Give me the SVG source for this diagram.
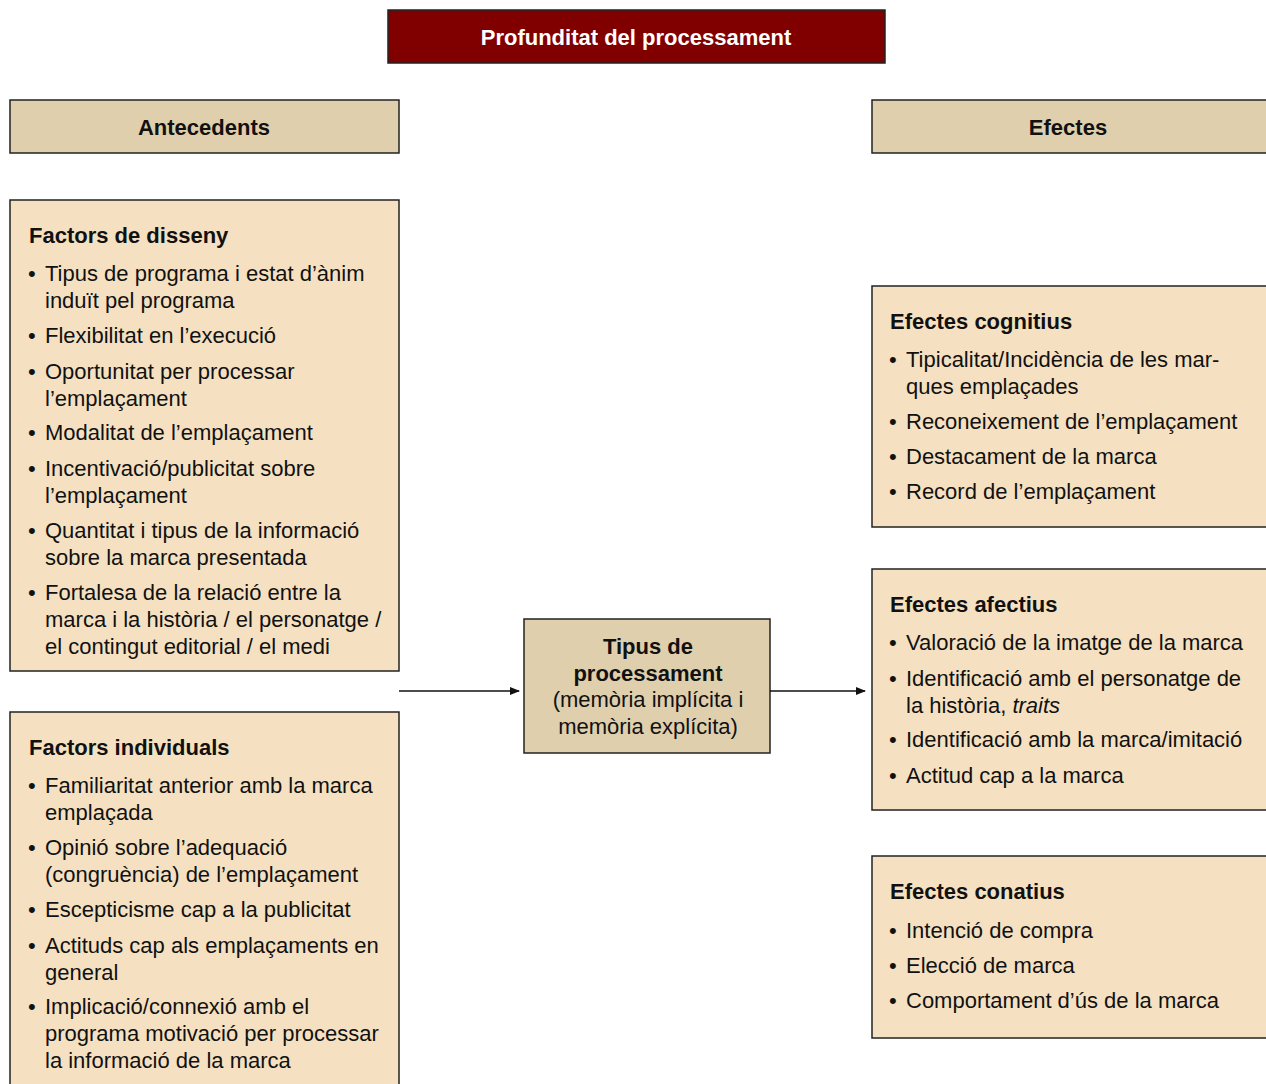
<svg xmlns="http://www.w3.org/2000/svg" width="1266" height="1084" viewBox="0 0 1266 1084">
<style>
text{font-family:"Liberation Sans",Arial,sans-serif;font-size:22px;fill:#111}
.b{font-weight:bold}
.t{fill:#fff;font-weight:bold}
.c{text-anchor:middle}
.box{fill:#f5e1c1;stroke:#222;stroke-width:1.5}
.hdr{fill:#e0cfad;stroke:#222;stroke-width:1.5}
.ttl{fill:#800000;stroke:#222;stroke-width:1.5}
.con{stroke:#111;stroke-width:1.5;fill:none}
</style>
<defs>
<marker id="ah" markerWidth="10" markerHeight="10" refX="9" refY="5" orient="auto" markerUnits="userSpaceOnUse">
<path d="M0,1 L10,5 L0,9 Z" fill="#111"/>
</marker>
</defs>
<g id="title">
<rect class="ttl" x="388" y="10" width="497" height="53"/>
<text class="t c" x="636" y="45">Profunditat del processament</text>
</g>
<g id="antecedents">
<rect class="hdr" x="10" y="100" width="389" height="53"/>
<text class="b c" x="204" y="135">Antecedents</text>
</g>
<g id="efectes">
<rect class="hdr" x="872" y="100" width="400" height="53"/>
<text class="b c" x="1068" y="135">Efectes</text>
</g>
<g id="factors-disseny">
<rect class="box" x="10" y="200" width="389" height="471"/>
<text class="b" x="29" y="243">Factors de disseny</text>
<text x="28" y="281">•</text><text x="45" y="281">Tipus de programa i estat d’ànim</text>
<text x="45" y="308">induït pel programa</text>
<text x="28" y="343">•</text><text x="45" y="343">Flexibilitat en l’execució</text>
<text x="28" y="379">•</text><text x="45" y="379">Oportunitat per processar</text>
<text x="45" y="406">l’emplaçament</text>
<text x="28" y="440">•</text><text x="45" y="440">Modalitat de l’emplaçament</text>
<text x="28" y="476">•</text><text x="45" y="476">Incentivació/publicitat sobre</text>
<text x="45" y="503">l’emplaçament</text>
<text x="28" y="538">•</text><text x="45" y="538">Quantitat i tipus de la informació</text>
<text x="45" y="565">sobre la marca presentada</text>
<text x="28" y="600">•</text><text x="45" y="600">Fortalesa de la relació entre la</text>
<text x="45" y="627">marca i la història / el personatge /</text>
<text x="45" y="654">el contingut editorial / el medi</text>
</g>
<g id="factors-individuals">
<rect class="box" x="10" y="712" width="389" height="390"/>
<text class="b" x="29" y="755">Factors individuals</text>
<text x="28" y="793">•</text><text x="45" y="793">Familiaritat anterior amb la marca</text>
<text x="45" y="820">emplaçada</text>
<text x="28" y="855">•</text><text x="45" y="855">Opinió sobre l’adequació</text>
<text x="45" y="882">(congruència) de l’emplaçament</text>
<text x="28" y="917">•</text><text x="45" y="917">Escepticisme cap a la publicitat</text>
<text x="28" y="953">•</text><text x="45" y="953">Actituds cap als emplaçaments en</text>
<text x="45" y="980">general</text>
<text x="28" y="1014">•</text><text x="45" y="1014">Implicació/connexió amb el</text>
<text x="45" y="1041">programa motivació per processar</text>
<text x="45" y="1068">la informació de la marca</text>
</g>
<g id="tipus-processament">
<rect class="hdr" x="524" y="619" width="246" height="134"/>
<text class="b c" x="648" y="654">Tipus de</text>
<text class="b c" x="648" y="681">processament</text>
<text class="c" x="648" y="707">(memòria implícita i</text>
<text class="c" x="648" y="734">memòria explícita)</text>
</g>
<g id="efectes-cognitius">
<rect class="box" x="872" y="286" width="400" height="241"/>
<text class="b" x="890" y="329">Efectes cognitius</text>
<text x="889" y="367">•</text><text x="906" y="367">Tipicalitat/Incidència de les mar-</text>
<text x="906" y="394">ques emplaçades</text>
<text x="889" y="429">•</text><text x="906" y="429">Reconeixement de l’emplaçament</text>
<text x="889" y="464">•</text><text x="906" y="464">Destacament de la marca</text>
<text x="889" y="499">•</text><text x="906" y="499">Record de l’emplaçament</text>
</g>
<g id="efectes-afectius">
<rect class="box" x="872" y="569" width="400" height="241"/>
<text class="b" x="890" y="612">Efectes afectius</text>
<text x="889" y="650">•</text><text x="906" y="650">Valoració de la imatge de la marca</text>
<text x="889" y="686">•</text><text x="906" y="686">Identificació amb el personatge de</text>
<text x="906" y="713">la història, <tspan font-style="italic">traits</tspan></text>
<text x="889" y="747">•</text><text x="906" y="747">Identificació amb la marca/imitació</text>
<text x="889" y="783">•</text><text x="906" y="783">Actitud cap a la marca</text>
</g>
<g id="efectes-conatius">
<rect class="box" x="872" y="856" width="400" height="182"/>
<text class="b" x="890" y="899">Efectes conatius</text>
<text x="889" y="938">•</text><text x="906" y="938">Intenció de compra</text>
<text x="889" y="973">•</text><text x="906" y="973">Elecció de marca</text>
<text x="889" y="1008">•</text><text x="906" y="1008">Comportament d’ús de la marca</text>
</g>
<g id="connectors">
<line class="con" x1="399" y1="691" x2="519" y2="691" marker-end="url(#ah)"/>
<line class="con" x1="770" y1="691" x2="865" y2="691" marker-end="url(#ah)"/>
</g>
</svg>
